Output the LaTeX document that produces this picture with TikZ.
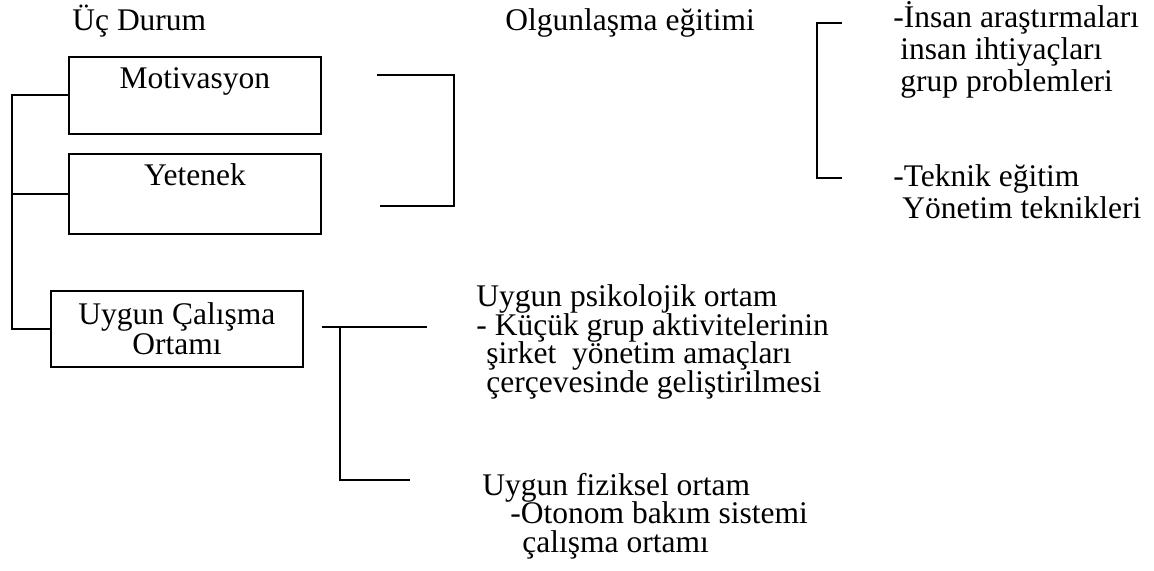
\documentclass[tikz,border=0pt]{standalone}
\usepackage{fontspec}
\setmainfont{Liberation Serif}
\usepackage{tikz}

\newcommand{\sikisatir}{\lineskiplimit -20pt\relax}

% multi-line texts sit on the baseline of their last line
\tikzset{
  txt/.style={inner sep=0pt, anchor=base west, align=left,
    font=\fontsize{15.75}{14.25}\selectfont\sikisatir},
  genis/.style={txt, font=\fontsize{15.75}{16}\selectfont\sikisatir},
  kutu/.style={draw, line width=0.9pt, inner sep=0pt, minimum width=126pt,
    font=\fontsize{15.75}{15}\selectfont\sikisatir},
  cizgi/.style={line width=0.9pt}
}

\begin{document}
\begin{tikzpicture}[x=0.5pt,y=-0.5pt]
        \useasboundingbox (0,0) rectangle (1154,571);
        % headings
        \node[txt] (baslik) at (72,31) {Üç Durum};
        \node[txt] (olg) at (505,31) {Olgunlaşma eğitimi};
        % boxes
        \node[kutu, anchor=north west, text height=16pt, text depth=22.5pt] (mot) at (68,56) {Motivasyon};
        \node[kutu, anchor=north west, text height=16pt, text depth=24pt] (yet) at (68,153) {Yetenek};
        \node[kutu, anchor=north west, minimum height=38pt, align=center] (uco) at (50,290) {Uygun Çalışma\\Ortamı};
        % texts
        \node[genis] (ins) at (893,92) {-İnsan araştırmaları\\\hspace{3.5pt}insan ihtiyaçları\\\hspace{3.5pt}grup problemleri};
        \node[genis] (tek) at (893,219) {-Teknik eğitim\\\hspace{4.5pt}Yönetim teknikleri};
        \node[txt] (psi) at (476,392) {Uygun psikolojik ortam\\- Küçük grup aktivitelerinin\\\hspace{5pt}şirket\ \ yönetim amaçları\\\hspace{5pt}çerçevesinde geliştirilmesi};
        \node[txt] (fiz) at (482,552) {Uygun fiziksel ortam\\\hspace{14pt}-Otonom bakım sistemi\\\hspace{20pt}çalışma ortamı};
        % left bus
        \coordinate (bus) at (12,0);
        \draw[cizgi] (mot.west) -| (bus |- uco.west) -- (uco.west);
        \draw[cizgi] (yet.west) -- (yet.west -| bus);
        % bracket next to the two boxes
        \coordinate (b1a) at (377,75);
        \coordinate (b1b) at (454,75);
        \coordinate (b1c) at (454,206);
        \coordinate (b1d) at (380,206);
        \draw[cizgi] (b1a) -- (b1b) -- (b1c) -- (b1d);
        % bracket of the training items
        \coordinate (b2a) at (842,23);
        \coordinate (b2b) at (817,23);
        \coordinate (b2c) at (817,178);
        \coordinate (b2d) at (842,178);
        \draw[cizgi] (b2a) -- (b2b) -- (b2c) -- (b2d);
        % bracket of the working environment
        \coordinate (b3a) at (322,327);
        \coordinate (b3b) at (427,327);
        \coordinate (b3c) at (340,327);
        \coordinate (b3d) at (340,480);
        \coordinate (b3e) at (410,480);
        \draw[cizgi] (b3a) -- (b3b);
        \draw[cizgi] (b3c) -- (b3d) -- (b3e);
\end{tikzpicture}
\end{document}
